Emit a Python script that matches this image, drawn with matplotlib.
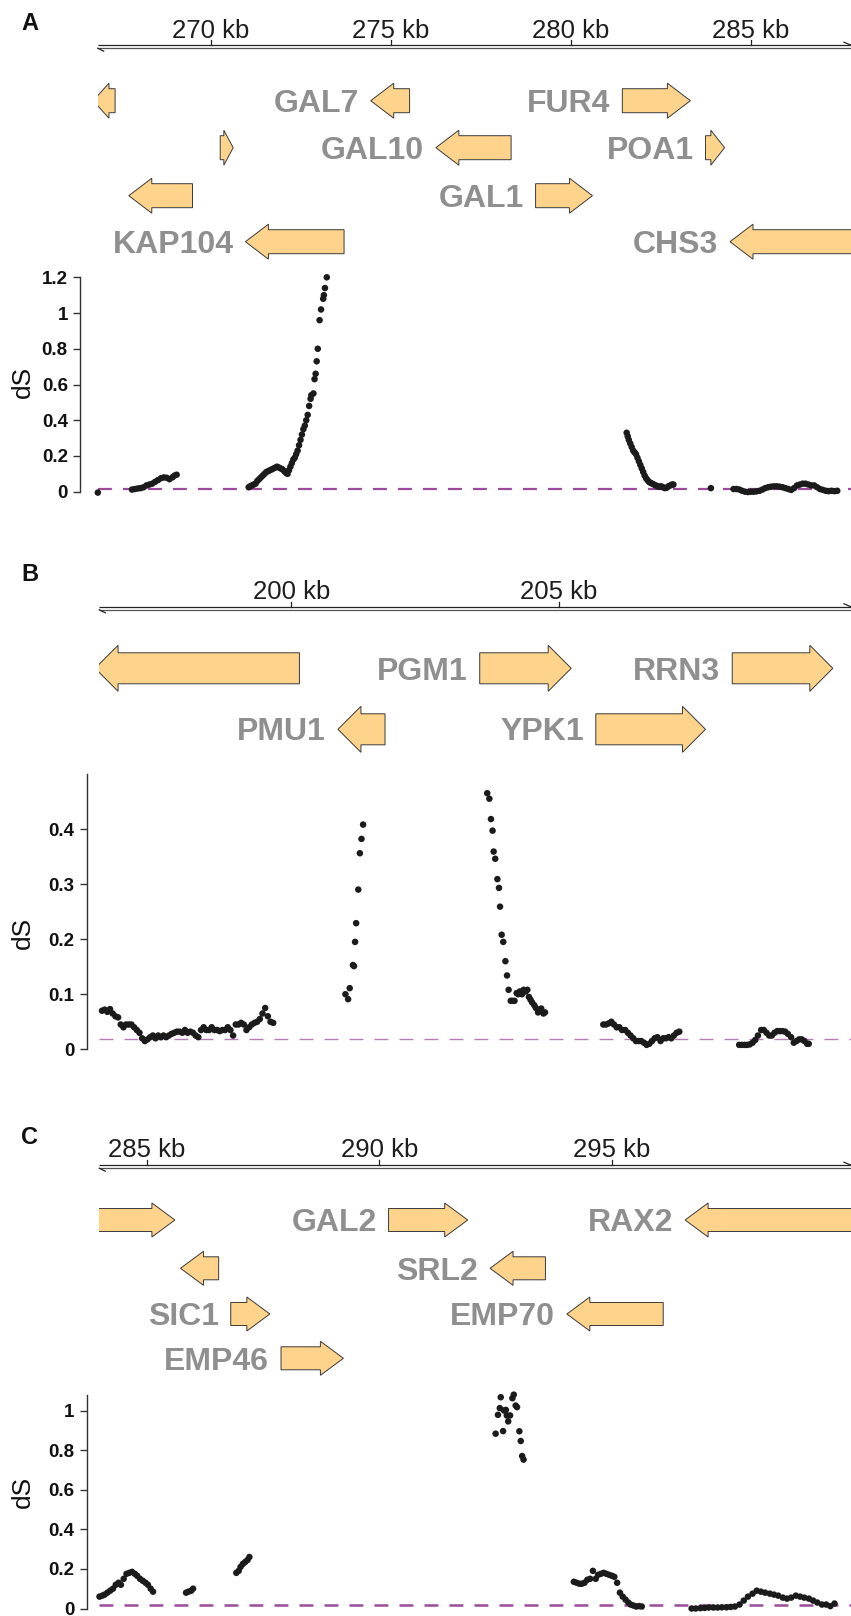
import matplotlib
matplotlib.use("Agg")
import matplotlib.pyplot as plt
from matplotlib.patches import Polygon
from matplotlib import font_manager as fm

plt.rcParams['lines.scale_dashes'] = False

def has_font(name):
    try:
        fm.findfont(fm.FontProperties(family=name), fallback_to_default=False)
        return True
    except Exception:
        return False

SANS = 'Liberation Sans' if has_font('Liberation Sans') else 'DejaVu Sans'

# ---------------- DATA ----------------
# Panel A genes
a_gene_names = ['', 'GAL7', 'FUR4', '', 'GAL10', 'POA1', '', 'GAL1', 'KAP104', 'CHS3']
a_gene_start = [266.74, 274.45, 281.44, 270.27, 276.26, 283.75, 267.73, 279.03, 270.97, 284.43]
a_gene_end = [267.35, 275.53, 283.33, 270.63, 278.35, 284.28, 269.50, 280.61, 273.71, 288.60]
a_gene_strand = ['-', '-', '+', '+', '-', '+', '-', '+', '-', '-']
a_gene_row = [0, 0, 0, 1, 1, 1, 2, 2, 3, 3]
a_ticks_kb = [270, 275, 280, 285]

a_kb = [266.87,
        267.82, 267.90, 267.98, 268.06, 268.14, 268.22, 268.30, 268.38, 268.46, 268.54,
        268.62, 268.70, 268.78, 268.86, 268.94, 269.00, 269.06,
        271.06, 271.10, 271.15, 271.20, 271.25, 271.30, 271.35, 271.40, 271.45, 271.50,
        271.55, 271.60, 271.65, 271.70, 271.75, 271.80, 271.85, 271.90, 271.95, 272.00,
        272.05, 272.10, 272.14, 272.18, 272.22, 272.26, 272.30, 272.34, 272.38, 272.42,
        272.46, 272.50, 272.54, 272.58, 272.62, 272.66, 272.70, 272.74, 272.78, 272.80,
        272.86, 272.89, 272.92, 272.95, 272.98, 273.03, 273.07, 273.13, 273.15, 273.18, 273.23,
        281.56, 281.59, 281.62, 281.66, 281.70, 281.74, 281.78, 281.82, 281.86, 281.90,
        281.94, 281.98, 282.02, 282.06, 282.10, 282.14, 282.18, 282.22, 282.27, 282.32,
        282.37, 282.42, 282.47, 282.52, 282.57, 282.62, 282.67, 282.72, 282.77, 282.82, 282.86,
        283.90,
        284.53, 284.61, 284.69, 284.77, 284.85, 284.93, 285.01, 285.09, 285.17, 285.25,
        285.33, 285.41, 285.49, 285.57, 285.65, 285.73, 285.81, 285.89, 285.97, 286.05,
        286.13, 286.21, 286.29, 286.37, 286.45, 286.53, 286.61, 286.69, 286.77, 286.85,
        286.93, 287.01, 287.09, 287.17, 287.25, 287.33, 287.41]
a_ds = [-0.005,
        0.012, 0.015, 0.018, 0.020, 0.025, 0.035, 0.040, 0.045, 0.055, 0.065,
        0.075, 0.080, 0.078, 0.070, 0.080, 0.090, 0.095,
        0.025, 0.030, 0.035, 0.040, 0.045, 0.060, 0.070, 0.080, 0.090, 0.100,
        0.110, 0.115, 0.120, 0.125, 0.130, 0.135, 0.140, 0.135, 0.130, 0.125,
        0.115, 0.105, 0.100, 0.120, 0.140, 0.160, 0.180, 0.190, 0.210, 0.230,
        0.260, 0.290, 0.320, 0.350, 0.370, 0.400, 0.430, 0.480, 0.520, 0.540,
        0.550, 0.630, 0.660, 0.730, 0.800, 0.960, 1.020, 1.080, 1.100, 1.140, 1.200,
        0.330, 0.310, 0.290, 0.270, 0.250, 0.230, 0.220, 0.210, 0.190, 0.170,
        0.150, 0.130, 0.110, 0.090, 0.075, 0.065, 0.055, 0.050, 0.045, 0.040,
        0.035, 0.030, 0.028, 0.030, 0.025, 0.020, 0.022, 0.030, 0.035, 0.040, 0.040,
        0.020,
        0.015, 0.015, 0.012, 0.005, 0.000, -0.002, 0.000, 0.000, 0.002, 0.005,
        0.012, 0.020, 0.025, 0.028, 0.030, 0.030, 0.028, 0.025, 0.020, 0.015,
        0.010, 0.020, 0.035, 0.040, 0.045, 0.045, 0.040, 0.035, 0.035, 0.025,
        0.015, 0.010, 0.005, 0.003, 0.005, 0.003, 0.005]
a_base = 0.013

# Panel B genes
b_gene_names = ['', 'PGM1', 'RRN3', 'PMU1', 'YPK1']
b_gene_start = [196.33, 203.52, 208.24, 200.87, 205.69]
b_gene_end = [200.15, 205.23, 210.12, 201.75, 207.74]
b_gene_strand = ['-', '+', '+', '-', '+']
b_gene_row = [0, 0, 0, 1, 1]
b_ticks_kb = [200, 205]

b_kb = [196.46, 196.51, 196.56, 196.61, 196.66, 196.71, 196.76, 196.81, 196.86, 196.91,
        196.96, 197.01, 197.06, 197.11, 197.16, 197.21, 197.26, 197.31, 197.36, 197.41,
        197.46, 197.51, 197.56, 197.61, 197.66, 197.71, 197.76, 197.81, 197.86, 197.91,
        197.96, 198.01, 198.06, 198.11, 198.16, 198.21, 198.26, 198.31, 198.36, 198.41,
        198.46, 198.51, 198.56, 198.61, 198.66, 198.71, 198.76, 198.81, 198.86, 198.91,
        198.96, 199.01, 199.06, 199.11, 199.16, 199.21, 199.26, 199.31, 199.36, 199.41,
        199.46, 199.51, 199.56, 199.61, 199.66,
        201.01, 201.06, 201.09, 201.15, 201.17, 201.19, 201.21, 201.25, 201.28, 201.31, 201.34,
        203.66, 203.70, 203.73, 203.76, 203.78, 203.81, 203.85, 203.88, 203.90, 203.93,
        203.96, 204.00, 204.03, 204.06, 204.10, 204.13, 204.17, 204.21, 204.24, 204.27,
        204.31, 204.34, 204.38, 204.41, 204.44, 204.47, 204.50, 204.54, 204.57, 204.61,
        204.64, 204.67, 204.71, 204.74,
        205.83, 205.88, 205.93, 205.98, 206.03, 206.08, 206.13, 206.18, 206.24, 206.29,
        206.34, 206.39, 206.44, 206.49, 206.54, 206.59, 206.64, 206.69, 206.74, 206.79,
        206.84, 206.90, 206.95, 207.00, 207.05, 207.10, 207.15, 207.20, 207.25,
        208.37, 208.42, 208.47, 208.52, 208.57, 208.62, 208.67, 208.72, 208.78, 208.83,
        208.88, 208.93, 208.98, 209.03, 209.08, 209.13, 209.18, 209.23, 209.28, 209.34,
        209.39, 209.44, 209.49, 209.54, 209.59, 209.64, 209.67]
b_ds = [0.070, 0.072, 0.068, 0.073, 0.065, 0.060, 0.058, 0.045, 0.040, 0.045,
        0.045, 0.045, 0.040, 0.035, 0.030, 0.020, 0.015, 0.018, 0.022, 0.025,
        0.020, 0.025, 0.022, 0.025, 0.022, 0.025, 0.028, 0.030, 0.032, 0.032,
        0.030, 0.035, 0.030, 0.032, 0.030, 0.025, 0.022, 0.035, 0.040, 0.035,
        0.035, 0.040, 0.035, 0.035, 0.033, 0.035, 0.035, 0.040, 0.035, 0.025,
        0.045, 0.045, 0.048, 0.045, 0.035, 0.040, 0.045, 0.048, 0.050, 0.055,
        0.065, 0.075, 0.060, 0.050, 0.048,
        0.100, 0.091, 0.111, 0.153, 0.151, 0.195, 0.229, 0.290, 0.356, 0.382, 0.408,
        0.465, 0.455, 0.418, 0.397, 0.359, 0.346, 0.309, 0.293, 0.259, 0.208,
        0.195, 0.160, 0.134, 0.108, 0.088, 0.088, 0.088, 0.102, 0.100, 0.105,
        0.100, 0.108, 0.105, 0.108, 0.095, 0.090, 0.085, 0.080, 0.075, 0.067,
        0.070, 0.074, 0.065, 0.067,
        0.045, 0.045, 0.047, 0.050, 0.045, 0.040, 0.040, 0.035, 0.035, 0.030,
        0.025, 0.020, 0.015, 0.015, 0.015, 0.012, 0.008, 0.010, 0.015, 0.020,
        0.022, 0.015, 0.020, 0.020, 0.022, 0.020, 0.025, 0.030, 0.032,
        0.008, 0.008, 0.008, 0.008, 0.009, 0.012, 0.017, 0.025, 0.035, 0.035,
        0.030, 0.025, 0.025, 0.030, 0.033, 0.033, 0.033, 0.032, 0.028, 0.022,
        0.012, 0.015, 0.018, 0.018, 0.015, 0.010, 0.010]
b_base = 0.018

# Panel C genes
c_gene_names = ['', 'GAL2', 'RAX2', '', 'SRL2', 'SIC1', 'EMP70', 'EMP46']
c_gene_start = [283.86, 290.20, 296.57, 285.73, 292.38, 286.81, 294.03, 287.89]
c_gene_end = [285.61, 291.90, 301.50, 286.55, 293.57, 287.65, 296.10, 289.23]
c_gene_strand = ['+', '+', '-', '-', '-', '+', '-', '+']
c_gene_row = [0, 0, 0, 1, 1, 2, 2, 3]
c_ticks_kb = [285, 290, 295]

c_kb = [283.99, 284.05, 284.10, 284.16, 284.22, 284.28, 284.34, 284.40, 284.45, 284.51,
        284.57, 284.63, 284.69, 284.75, 284.80, 284.86, 284.92, 284.98, 285.03, 285.09, 285.14,
        285.85, 285.90, 285.96, 286.00,
        286.93, 286.98, 287.02, 287.07, 287.12, 287.17, 287.21,
        292.50, 292.55, 292.59, 292.61, 292.66, 292.68, 292.72, 292.74, 292.77, 292.81,
        292.86, 292.89, 292.93, 292.96, 293.01, 293.04, 293.07, 293.10,
        294.18, 294.24, 294.30, 294.35, 294.41, 294.47, 294.53, 294.59, 294.65, 294.70,
        294.76, 294.82, 294.88, 294.94, 295.00, 295.05, 295.11, 295.17, 295.23, 295.29,
        295.35, 295.40, 295.46, 295.52, 295.58, 295.64,
        296.71, 296.80, 296.90, 296.99, 297.08, 297.18, 297.27, 297.36, 297.46, 297.55,
        297.64, 297.74, 297.83, 297.92, 298.02, 298.11, 298.20, 298.29, 298.39, 298.48,
        298.57, 298.67, 298.76, 298.85, 298.95, 299.04, 299.13, 299.23, 299.32, 299.41,
        299.51, 299.60, 299.69, 299.78]
c_ds = [0.060, 0.065, 0.070, 0.080, 0.090, 0.100, 0.120, 0.130, 0.120, 0.150,
        0.175, 0.180, 0.185, 0.175, 0.165, 0.150, 0.140, 0.130, 0.120, 0.100, 0.085,
        0.080, 0.085, 0.090, 0.100,
        0.180, 0.190, 0.210, 0.225, 0.235, 0.245, 0.260,
        0.883, 0.978, 1.012, 1.067, 0.896, 1.000, 1.003, 0.975, 0.945, 0.975,
        1.062, 1.080, 1.025, 1.017, 0.895, 0.846, 0.770, 0.752,
        0.135, 0.130, 0.125, 0.125, 0.130, 0.145, 0.150, 0.190, 0.150, 0.170,
        0.175, 0.180, 0.175, 0.170, 0.165, 0.160, 0.130, 0.080, 0.060, 0.045,
        0.030, 0.020, 0.015, 0.010, 0.012, 0.010,
        0.000, 0.000, 0.002, 0.003, 0.005, 0.005, 0.005, 0.006, 0.006, 0.008,
        0.010, 0.020, 0.040, 0.060, 0.075, 0.090, 0.085, 0.080, 0.075, 0.070,
        0.065, 0.055, 0.050, 0.055, 0.065, 0.060, 0.055, 0.050, 0.040, 0.030,
        0.020, 0.020, 0.012, 0.025]
c_base = 0.017

# ---------------- LAYOUT ----------------
W, H = 851, 1616
fig = plt.figure(figsize=(W / 100, H / 100), dpi=100)

def add_ax(left, top, right, bottom):
    return fig.add_axes([left / W, 1 - bottom / H, (right - left) / W, (bottom - top) / H])

GENE_FILL = '#FED38C'
GENE_EDGE = '#3a3a3a'
LABEL_GRAY = '#8F8F8F'


def draw_track(letter, letter_y, x_left, ppk, ref_kb, ref_px, top, bottom, axis_y, label_y,
               ticks, names, starts, ends, strands, rows, row_y, head_h, body_h):
    kb_left = ref_kb + (x_left - ref_px) / ppk
    kb_right = ref_kb + (W - ref_px) / ppk
    ax = add_ax(x_left, top, W, bottom)
    ax.set_xlim(kb_left, kb_right)
    ax.set_ylim(bottom, top)
    ax.axis('off')
    # axis double line
    ax.plot([kb_left, kb_right], [axis_y - 1.5, axis_y - 1.5], color='#222222', lw=0.9,
            solid_capstyle='butt', clip_on=False)
    ax.plot([kb_left, kb_right], [axis_y + 1.5, axis_y + 1.5], color='#555555', lw=0.9,
            solid_capstyle='butt', clip_on=False)
    ax.plot([kb_right - 7 / ppk, kb_right], [axis_y - 4.5, axis_y - 1.5], color='#222222', lw=0.9,
            clip_on=False)
    ax.plot([kb_left, kb_left + 6 / ppk], [axis_y + 1.5, axis_y + 4.5], color='#222222', lw=0.9,
            clip_on=False)
    for t in ticks:
        ax.plot([t, t], [axis_y - 1.5, axis_y - 6.5], color='#222222', lw=0.9)
        ax.text(t, label_y, f'{t} kb', ha='center', va='center', fontsize=18.5,
                family=SANS, color='#1e1e1e')
    head_len = 23 / ppk
    for nm, s, e, st, r in zip(names, starts, ends, strands, rows):
        y = row_y[r]
        L = e - s
        h = min(head_len, 0.72 * L)
        bh, hh = body_h / 2, head_h / 2
        if st == '+':
            pts = [(s, y - bh), (e - h, y - bh), (e - h, y - hh), (e, y), (e - h, y + hh),
                   (e - h, y + bh), (s, y + bh)]
        else:
            pts = [(e, y - bh), (s + h, y - bh), (s + h, y - hh), (s, y), (s + h, y + hh),
                   (s + h, y + bh), (e, y + bh)]
        ax.add_patch(Polygon(pts, closed=True, facecolor=GENE_FILL, edgecolor=GENE_EDGE,
                             lw=0.7, joinstyle='miter'))
        if nm:
            ax.text(s - 12 / ppk, y + 11.2, nm, ha='right', va='baseline', fontsize=23,
                    fontweight='bold', family=SANS, color=LABEL_GRAY)
    fig.text(30 / W, 1 - letter_y / H, letter, ha='center', va='center', fontsize=17,
             fontweight='bold', family=SANS, color='#111111')
    return kb_left, kb_right


def draw_scatter(x_left, kb_lim, spine_x, top, bottom, y0_px, v1, y1_px, spine_top, ticks,
                 ticklabels, xs, ys, base, base_color, base_lw, ds_y):
    ax = add_ax(x_left, top, W, bottom)
    ppv = (y0_px - y1_px) / v1
    ax.set_xlim(*kb_lim)
    ax.set_ylim(-(bottom - y0_px) / ppv, (y0_px - top) / ppv)
    for sp in ['top', 'right', 'bottom']:
        ax.spines[sp].set_visible(False)
    ax.spines['left'].set_position(('outward', (x_left - spine_x) * 0.72))
    ax.spines['left'].set_bounds(0, spine_top)
    ax.spines['left'].set_color('#333333')
    ax.spines['left'].set_linewidth(1.0)
    ax.set_xticks([])
    ax.set_yticks(ticks)
    ax.set_yticklabels(ticklabels)
    ax.tick_params(axis='y', length=5, width=1.0, color='#333333', pad=4)
    for lab in ax.get_yticklabels():
        lab.set_fontweight('bold')
        lab.set_family(SANS)
        lab.set_fontsize(13.5)
        lab.set_color('#111111')
    ax.axhline(base, color=base_color, lw=base_lw, dashes=(10, 8), zorder=1)
    ax.scatter(xs, ys, s=22, color='#1b1b1b', edgecolors='none', zorder=3, clip_on=False)
    ax.patch.set_alpha(0)
    fig.text(23 / W, 1 - ds_y / H, 'dS', rotation=90, ha='center', va='center',
             fontsize=19, family=SANS, color='#111111')
    return ax


# Panel A
limA = draw_track('A', 23, 97.7, 36.0, 270, 210.5, 0, 265, 46.7, 31,
                  a_ticks_kb, a_gene_names, a_gene_start, a_gene_end, a_gene_strand, a_gene_row,
                  [100.7, 147.7, 195.7, 241.7], 35, 24)
draw_scatter(97.7, limA, 80.3, 268, 505, 491.7, 1.2, 277.3, 1.2,
             [0, 0.2, 0.4, 0.6, 0.8, 1.0, 1.2], ['0', '0.2', '0.4', '0.6', '0.8', '1', '1.2'],
             a_kb, a_ds, a_base, '#9C4A9C', 1.6, 381.7)

# Panel B
limB = draw_track('B', 575, 99.3, 53.5, 200, 291.4, 560, 760, 608.3, 591.7,
                  b_ticks_kb, b_gene_names, b_gene_start, b_gene_end, b_gene_strand, b_gene_row,
                  [668.3, 729.3], 46, 31)
draw_scatter(99.3, limB, 86.8, 765, 1060, 1049.3, 0.4, 829.0, 0.5,
             [0, 0.1, 0.2, 0.3, 0.4], ['0', '0.1', '0.2', '0.3', '0.4'],
             b_kb, b_ds, b_base, '#B67CB6', 1.0, 933)

# Panel C
limC = draw_track('C', 1138, 99.3, 46.55, 285, 146.5, 1120, 1385, 1166.7, 1150,
                  c_ticks_kb, c_gene_names, c_gene_start, c_gene_end, c_gene_strand, c_gene_row,
                  [1220, 1268.3, 1314, 1358.3], 34, 23)
draw_scatter(99.3, limC, 86.8, 1388, 1616, 1608.5, 1.0, 1410.5, 1.08,
             [0, 0.2, 0.4, 0.6, 0.8, 1.0], ['0', '0.2', '0.4', '0.6', '0.8', '1'],
             c_kb, c_ds, c_base, '#9C4A9C', 1.8, 1492)

fig.savefig('out.png', dpi=100)
